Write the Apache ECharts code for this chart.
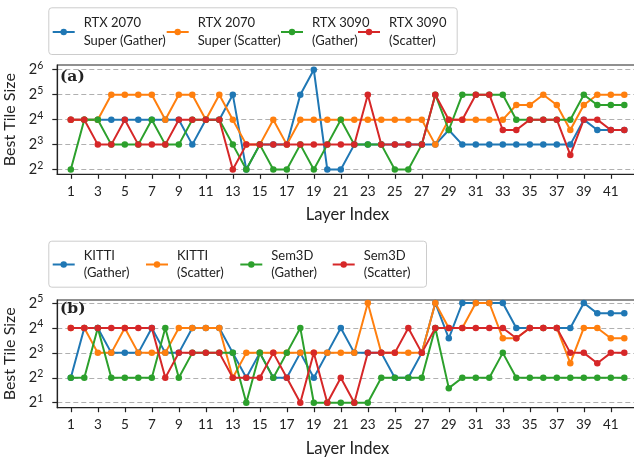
<!DOCTYPE html>
<html>
<head>
<meta charset="utf-8">
<script src="https://cdn.jsdelivr.net/npm/echarts@6/dist/echarts.min.js"></script>
<style>
  html, body { margin: 0; padding: 0; background: #fff; }
  #chart { width: 634px; height: 457px; }
</style>
</head>
<body>
<div id="chart"></div>
<script>
// layer index on the x axis
var layers = [1, 2, 3, 4, 5, 6, 7, 8, 9, 10, 11, 12, 13, 14, 15, 16, 17, 18, 19, 20, 21,
              22, 23, 24, 25, 26, 27, 28, 29, 30, 31, 32, 33, 34, 35, 36, 37, 38, 39, 40, 41, 42];
var xTicks = [1, 3, 5, 7, 9, 11, 13, 15, 17, 19, 21, 23, 25, 27, 29, 31, 33, 35, 37, 39, 41];

// (a) best tile size per GPU
var gather2070  = [16,16,16,16,16,16,16,16,16,8,16,16,32,4,8,8,8,32,64,4,4,8,8,8,8,8,8,8,12,8,8,8,8,8,8,8,8,8,16,12,12,12];
var scatter2070 = [16,16,16,32,32,32,32,16,32,32,16,32,16,8,8,16,8,16,16,16,16,16,16,16,16,16,16,8,16,16,16,16,16,24,24,32,24,12,24,32,32,32];
var gather3090  = [4,16,16,8,8,8,16,8,8,16,16,16,8,4,8,4,4,8,4,8,16,8,8,8,4,4,8,32,12,32,32,32,32,16,16,16,16,16,32,24,24,24];
var scatter3090 = [16,16,8,8,16,8,8,8,16,16,16,16,4,8,8,8,8,8,8,8,8,8,32,8,8,8,8,32,16,16,32,32,12,12,16,16,16,6,16,16,12,12];
var yTicksA = [2, 3, 4, 5, 6];

// (b) best tile size per dataset
var kittiGather  = [4,16,16,8,8,8,16,8,8,16,16,16,8,4,8,4,4,8,4,8,16,8,8,8,4,4,8,32,12,32,32,32,32,16,16,16,16,16,32,24,24,24];
var kittiScatter = [16,16,8,8,16,8,8,8,16,16,16,16,4,8,8,8,8,8,8,8,8,8,32,8,8,8,8,32,16,16,32,32,12,12,16,16,16,6,16,16,12,12];
var sem3dGather  = [4,4,16,4,4,4,4,16,4,8,8,8,8,2,8,4,8,16,2,2,2,2,2,4,4,4,4,16,3,4,4,4,8,4,4,4,4,4,4,4,4,4];
var sem3dScatter = [16,16,16,16,16,16,16,4,8,8,8,8,4,4,4,8,4,2,8,2,4,2,8,8,8,16,8,16,16,16,16,16,16,12,16,16,16,8,8,6,8,8];
var yTicksB = [1, 2, 3, 4, 5];

var namesA = ['RTX 2070\nSuper (Gather)', 'RTX 2070\nSuper (Scatter)', 'RTX 3090\n(Gather)', 'RTX 3090\n(Scatter)'];
var namesB = ['KITTI\n(Gather)', 'KITTI\n(Scatter)', 'Sem3D\n(Gather)', 'Sem3D\n(Scatter)'];
var colors = ['#1f77b4', '#ff7f0e', '#2ca02c', '#d62728'];

var FONT = 'Lato';
var INK = '#222';

function toPoints(arr) {
  return layers.map(function (l, i) { return [l, Math.log2(arr[i])]; });
}

function makeSeries(name, arr, idx, color) {
  return {
    name: name,
    type: 'line',
    xAxisIndex: idx,
    yAxisIndex: idx,
    data: toPoints(arr),
    symbol: 'circle',
    symbolSize: 6.5,
    color: color,
    lineStyle: { width: 2, color: color },
    itemStyle: { color: color },
    animation: false
  };
}

function makeX(idx) {
  return {
    type: 'value', gridIndex: idx, min: 0, max: 43,
    name: 'Layer Index', nameLocation: 'middle', nameGap: 32,
    nameTextStyle: { fontFamily: FONT, fontSize: 16.5, color: INK },
    axisLine: { show: true, lineStyle: { color: INK, width: 1.2 } },
    axisTick: { show: true, length: 4.5, customValues: xTicks, lineStyle: { color: INK, width: 1.2 } },
    axisLabel: { customValues: xTicks, margin: 10, fontFamily: FONT, fontSize: 13.5, color: INK },
    splitLine: { show: false }
  };
}

function makeY(idx, min, max, ticks) {
  return {
    type: 'value', gridIndex: idx, min: min, max: max,
    name: 'Best Tile Size', nameLocation: 'middle', nameGap: 29, nameRotate: 90,
    nameTextStyle: { fontFamily: FONT, fontSize: 16, color: INK },
    axisLine: { show: true, lineStyle: { color: INK, width: 1.2 } },
    axisTick: { show: true, length: 5, customValues: ticks, lineStyle: { color: INK, width: 1.2 } },
    axisLabel: {
      customValues: ticks, margin: 14, color: INK,
      formatter: function (v) { return '{b|2}{s|' + Math.round(v) + '}'; },
      rich: {
        b: { fontFamily: FONT, fontSize: 14.5, color: INK, lineHeight: 19 },
        s: { fontFamily: FONT, fontSize: 10.5, color: INK, verticalAlign: 'top', lineHeight: 11 }
      }
    },
    splitLine: { show: true, lineStyle: { color: '#b0b0b0', width: 1, type: [5, 3] } }
  };
}

// one legend per entry so each handle sits where the reference has it
function makeLegends(names, lefts, top) {
  return names.map(function (n, i) {
    return {
      data: [n], left: lefts[i], top: top, padding: 0, orient: 'horizontal',
      itemWidth: 22, itemHeight: 8,
      textStyle: { fontFamily: FONT, fontSize: 13, color: INK, lineHeight: 17.5, padding: [0, 0, 0, 4] }
    };
  });
}

var chart = echarts.init(document.getElementById('chart'), null, { renderer: 'canvas' });

var series = [];
[gather2070, scatter2070, gather3090, scatter3090].forEach(function (arr, i) {
  series.push(makeSeries(namesA[i], arr, 0, colors[i]));
});
[kittiGather, kittiScatter, sem3dGather, sem3dScatter].forEach(function (arr, i) {
  series.push(makeSeries(namesB[i], arr, 1, colors[i]));
});

chart.setOption({
  animation: false,
  textStyle: { fontFamily: FONT },
  grid: [
    { left: 57.3, top: 65, right: -3.8, height: 109.3, show: true, borderColor: INK, borderWidth: 1.2, outerBoundsMode: 'none', containLabel: false },
    { left: 57.3, top: 300, right: -3.8, height: 107.7, show: true, borderColor: INK, borderWidth: 1.2, outerBoundsMode: 'none', containLabel: false }
  ],
  xAxis: [makeX(0), makeX(1)],
  yAxis: [makeY(0, 1.81, 6.19, yTicksA), makeY(1, 0.8, 5.12, yTicksB)],
  legend: makeLegends(namesA, [51.7, 165.7, 280, 357], 14.5)
    .concat(makeLegends(namesB, [51.7, 145, 239.3, 331.7], 247)),
  title: [
    { text: '(a)', left: 60, top: 68.5, padding: 0, textStyle: { fontFamily: 'DejaVu Serif', fontWeight: 'bold', fontSize: 15.5, color: INK } },
    { text: '(b)', left: 60, top: 300.5, padding: 0, textStyle: { fontFamily: 'DejaVu Serif', fontWeight: 'bold', fontSize: 15.5, color: INK } }
  ],
  graphic: [
    { type: 'rect', left: 48.3, top: 7.3, z: -1, shape: { width: 408.4, height: 46.7, r: 3 }, style: { fill: '#fff', stroke: '#cccccc', lineWidth: 1 } },
    { type: 'rect', left: 48.3, top: 240.7, z: -1, shape: { width: 377.7, height: 46, r: 3 }, style: { fill: '#fff', stroke: '#cccccc', lineWidth: 1 } }
  ],
  series: series
});
</script>
</body>
</html>
